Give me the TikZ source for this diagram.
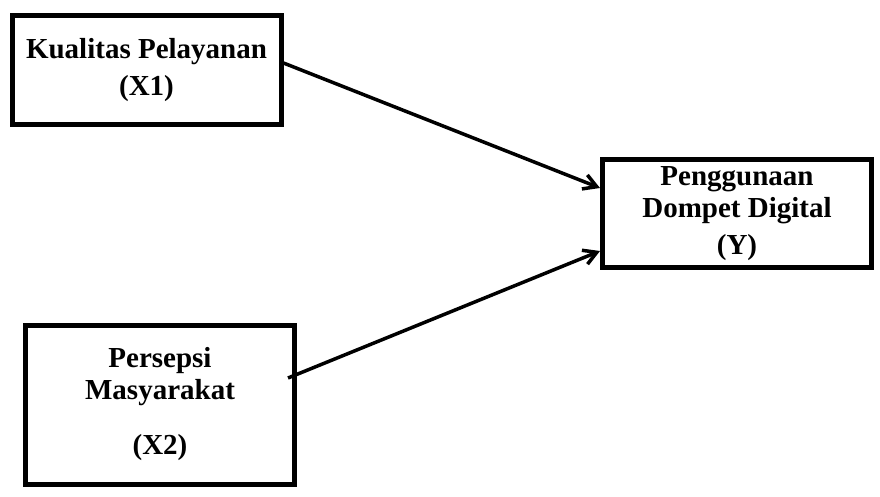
\documentclass[tikz,border=0pt]{standalone}
\usepackage{fontspec}
\setmainfont{Liberation Serif}
\usetikzlibrary{arrows.meta, positioning}

\begin{document}
\begin{tikzpicture}[
    x=1pt, y=-1pt,
    varbox/.style={rectangle, draw=black, line width=5pt, minimum width=269pt, align=center, font=\fontsize{29}{32}\selectfont\bfseries},
    arrow/.style={-{Straight Barb[length=13pt,width=15pt]}, line width=3.5pt}
]
\useasboundingbox (0,0) rectangle (880,497);

\node[varbox, minimum height=108.5pt] (x1) at (146.5,70) {Kualitas Pelayanan\\[5.4pt](X1)};
\node[varbox, minimum height=108pt] (y) at (737,213.5) {Penggunaan\\Dompet Digital\\[5pt](Y)};
\node[varbox, minimum height=159pt] (x2) at (160,404.5) {Persepsi\\Masyarakat\\[23pt](X2)};

\draw[arrow] ([yshift=7pt]x1.east) -- ([yshift=25.5pt]y.west);
\draw[arrow] ([xshift=-9pt,yshift=26.5pt]x2.east) -- ([yshift=-37.5pt]y.west);

\end{tikzpicture}
\end{document}
